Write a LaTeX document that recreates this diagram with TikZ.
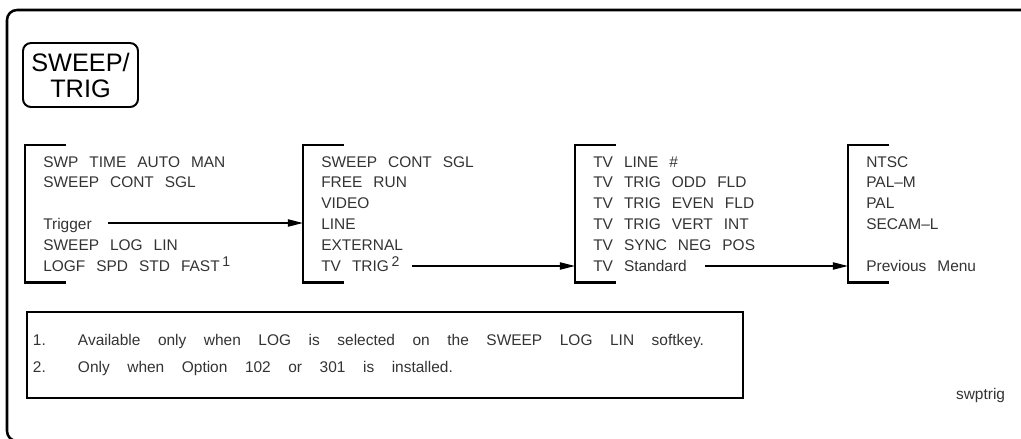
\documentclass[tikz,border=0pt]{standalone}
\usepackage{fontspec}
\setmainfont{Liberation Sans}
\usetikzlibrary{arrows.meta}

\newcommand{\menufont}{\fontsize{11}{14.8}\selectfont\spaceskip=7.8pt plus 1pt\relax}
\newcommand{\notefont}{\fontsize{11}{19.2}\selectfont}
\newcommand{\supnum}[1]{\raisebox{3pt}{\fontsize{10}{10}\selectfont #1}}

\begin{document}
\begin{tikzpicture}[
  x=0.25mm, y=-0.25mm,
  >={Triangle[length=3.8mm,width=1.8mm]},
  every node/.style={font=\menufont,text=black!80},
  menu/.style={anchor=north west,align=left,inner xsep=4.5mm,inner ysep=0pt,
    minimum height=34.25mm},
  bracket/.style={line width=1.6pt},
  flow/.style={->,line width=1.2pt},
  keybox/.style={draw,line width=1.4pt,rounded corners=2mm,align=center,
    minimum width=28.75mm,minimum height=16mm,inner sep=0pt,
    font=\fontsize{18}{18.5}\selectfont,text=black},
  notebox/.style={draw,line width=1.4pt,anchor=north west,align=left,
    text width=176mm,inner xsep=1.5mm,minimum height=21.5mm,font=\notefont}
]
  \useasboundingbox (0,0) rectangle (1021,438);
  \clip (0,0) rectangle (1021,438);
  \draw[line width=1.8pt,rounded corners=2.5mm] (7,10) rectangle (1034,441);

  \node[keybox] (key) at (80.5,75) {SWEEP/\\TRIG};

  % softkey menus
  \node[menu] (sweepmenu) at (25,145)
    {SWP TIME AUTO MAN\\SWEEP CONT SGL\\ \\Trigger\\SWEEP LOG LIN\\
     LOGF SPD STD FAST\,\supnum{1}};
  \node[menu] (trigmenu) at (303,145)
    {SWEEP CONT SGL\\FREE RUN\\VIDEO\\LINE\\EXTERNAL\\TV TRIG\,\supnum{2}};
  \node[menu] (tvmenu) at (575,145)
    {TV LINE \#\\TV TRIG ODD FLD\\TV TRIG EVEN FLD\\TV TRIG VERT INT\\
     TV SYNC NEG POS\\TV Standard};
  \node[menu] (stdmenu) at (848,145)
    {NTSC\\PAL--M\\PAL\\SECAM--L\\ \\Previous Menu};

  \foreach \m in {sweepmenu,trigmenu,tvmenu,stdmenu}
    \draw[bracket] (\m.north west) ++(41,0) -- (\m.north west)
      -- (\m.south west) -- ++(41,0);

  \coordinate (trigout) at (108,223);
  \coordinate (tvtrigout) at (412,266);
  \coordinate (stdout) at (705,266);
  \draw[flow] (trigout) -- (trigout -| trigmenu.west);
  \draw[flow] (tvtrigout) -- (tvtrigout -| tvmenu.west);
  \draw[flow] (stdout) -- (stdout -| stdmenu.west);

  % footnotes
  \node[notebox] (notes) at (26,311)
    {\spaceskip=12.5pt plus 1pt\relax
     \makebox[11.25mm][l]{1.}Available only when LOG is selected on the SWEEP LOG LIN softkey.\\
     \makebox[11.25mm][l]{2.}Only when Option 102 or 301 is installed.};
  \node[anchor=east] (fig) at (1010,395) {swptrig};
\end{tikzpicture}
\end{document}
